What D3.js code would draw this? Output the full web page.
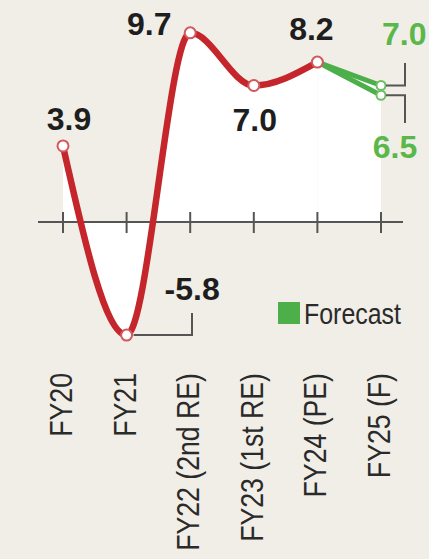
<!DOCTYPE html>
<html>
<head>
<meta charset="utf-8">
<script src="https://cdn.jsdelivr.net/npm/d3@7"></script>
<style>
  html, body { margin: 0; padding: 0; background: #f1eee7; }
  svg { display: block; }
</style>
</head>
<body>
<svg id="chart" width="429" height="559"></svg>
<script>
// ---- data ----
const categories = ["FY20", "FY21", "FY22 (2nd RE)", "FY23 (1st RE)", "FY24 (PE)", "FY25 (F)"];
const actualValues = [3.9, -5.8, 9.7, 7.0, 8.2];          // FY20..FY24
const forecastValues = [7.0, 6.5];                          // FY25 forecasts (upper, lower)
const valueLabels = ["3.9", "-5.8", "9.7", "7.0", "8.2"];
const forecastLabels = ["7.0", "6.5"];
const legendLabel = "Forecast";

// ---- setup ----
const svg = d3.select("#chart");
const W = 429, H = 559;
const red = "#c4262b", green = "#4daf4a", greenText = "#5ab74a", ink = "#1e1e1e", grey = "#555";

svg.append("rect").attr("width", W).attr("height", H).attr("fill", "#f1eee7");

const x = d3.scalePoint().domain(categories).range([63, 381]);
const y = d3.scaleLinear().domain([-6, 10]).range([339, 27]);

const actual = actualValues.map((v, i) => ({ c: categories[i], v }));
const lastCat = categories[categories.length - 1];
const fc = forecastValues.map(v => ({ c: lastCat, v }));

// white area under the curve (between line and zero)
const area = d3.area().x(d => x(d.c)).y0(y(0)).y1(d => y(d.v)).curve(d3.curveMonotoneX);
svg.append("path").datum(actual).attr("d", area).attr("fill", "#ffffff");
const fArea = d3.area().x(d => x(d.c)).y0(y(0)).y1(d => y(d.v));
svg.append("path").datum([actual[actual.length - 1], fc[0]]).attr("d", fArea).attr("fill", "#ffffff");

// axis line with ticks
svg.append("line").attr("x1", 38).attr("x2", 403).attr("y1", y(0)).attr("y2", y(0))
  .attr("stroke", grey).attr("stroke-width", 2);
svg.selectAll(".tick").data(categories).join("line")
  .attr("x1", d => x(d)).attr("x2", d => x(d))
  .attr("y1", y(0) - 10).attr("y2", y(0) + 11)
  .attr("stroke", grey).attr("stroke-width", 2);

// forecast lines
fc.forEach(f => {
  svg.append("line")
    .attr("x1", x(actual[4].c)).attr("y1", y(actual[4].v))
    .attr("x2", x(f.c)).attr("y2", y(f.v))
    .attr("stroke", green).attr("stroke-width", 5).attr("stroke-linecap", "round");
});

// main line
const line = d3.line().x(d => x(d.c)).y(d => y(d.v)).curve(d3.curveMonotoneX);
svg.append("path").datum(actual).attr("d", line)
  .attr("fill", "none").attr("stroke", red).attr("stroke-width", 6.5)
  .attr("stroke-linecap", "round");

// point markers
svg.selectAll(".pt").data(actual).join("circle")
  .attr("cx", d => x(d.c)).attr("cy", d => y(d.v)).attr("r", 5.5)
  .attr("fill", "#fff").attr("stroke", "#d4575c").attr("stroke-width", 2);
svg.selectAll(".fpt").data(fc).join("circle")
  .attr("cx", d => x(d.c)).attr("cy", d => y(d.v)).attr("r", 4.5)
  .attr("fill", "#fff").attr("stroke", "#6cbf62").attr("stroke-width", 2);

// value labels (offsets relative to points are styling)
const lblFont = "'Liberation Sans', Arial, sans-serif";
const layout = [
  { dx: 6, dy: -16, anchor: "middle" },   // FY20
  { dx: 38, dy: -35, anchor: "start" },   // FY21
  { dx: -41, dy: 2, anchor: "middle" },   // FY22
  { dx: 1, dy: 45, anchor: "middle" },    // FY23
  { dx: -6, dy: -22, anchor: "middle" },  // FY24
];
actual.forEach((d, i) => {
  svg.append("text")
    .attr("x", x(d.c) + layout[i].dx).attr("y", y(d.v) + layout[i].dy)
    .attr("text-anchor", layout[i].anchor)
    .attr("font-family", lblFont).attr("font-weight", "bold").attr("font-size", 32)
    .attr("fill", ink).text(valueLabels[i]);
});
const fLayout = [
  { dx: 1, y: 45, anchor: "start" },
  { dx: 14, y: 158, anchor: "middle" },
];
fc.forEach((d, i) => {
  svg.append("text")
    .attr("x", x(d.c) + fLayout[i].dx).attr("y", fLayout[i].y)
    .attr("text-anchor", fLayout[i].anchor)
    .attr("font-family", lblFont).attr("font-weight", "bold").attr("font-size", 32)
    .attr("fill", greenText).text(forecastLabels[i]);
});

// leader lines
const leader = (pts) => svg.append("path").attr("d", d3.line()(pts))
  .attr("fill", "none").attr("stroke", grey).attr("stroke-width", 2);
{
  const px = x(actual[1].c), py = y(actual[1].v);
  leader([[px + 7, py], [192, py], [192, py - 22]]);
  const fx = x(lastCat);
  leader([[fx + 5, y(fc[0].v)], [405, y(fc[0].v)], [405, 63]]);
  leader([[fx + 5, y(fc[1].v)], [405, y(fc[1].v)], [405, 123]]);
}

// legend
svg.append("rect").attr("x", 278).attr("y", 302).attr("width", 22).attr("height", 22).attr("fill", green);
svg.append("text")
  .attr("transform", "translate(304,324) scale(0.86,1)")
  .attr("font-family", "'Liberation Sans', Arial, sans-serif").attr("font-size", 29)
  .attr("fill", "#2a2a2a").text(legendLabel);

// x labels (rotated)
svg.selectAll(".xl").data(categories).join("text")
  .attr("transform", d => `translate(${x(d) + 9},373) rotate(-90) scale(0.86,1)`)
  .attr("text-anchor", "end")
  .attr("font-family", "'Liberation Sans', Arial, sans-serif").attr("font-size", 31)
  .attr("fill", "#2a2a2a").text(d => d);
</script>
</body>
</html>
